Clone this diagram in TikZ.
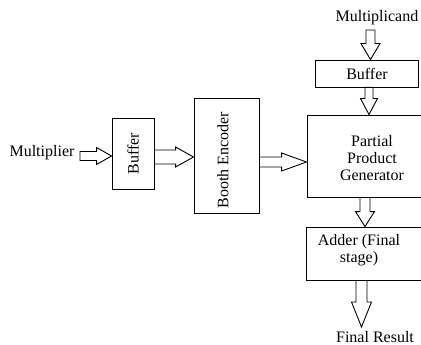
\documentclass[tikz,border=0pt]{standalone}
\usepackage{fontspec}
\setmainfont{Liberation Serif}
\usetikzlibrary{calc}
\tikzset{
  box/.style={draw, line width=0.9pt, rectangle, inner sep=0pt},
  txt/.style={font=\fontsize{16}{17}\selectfont, inner sep=0pt, align=center},
  blk/.style={draw, line width=0.9pt, fill=white, line join=miter}
}
% horizontal block arrow: from #1 to #2, shaft half width #3, head half width #4, head length #5
\newcommand\harr[5]{\draw[blk] ($(#1)+(0,#3)$) -- ($(#2)+(-#5,#3)$) -- ($(#2)+(-#5,#4)$) -- (#2) -- ($(#2)+(-#5,-#4)$) -- ($(#2)+(-#5,-#3)$) -- ($(#1)+(0,-#3)$) -- cycle;}
% vertical (downward) block arrow
\newcommand\varr[5]{\draw[blk] ($(#1)+(#3,0)$) -- ($(#2)+(#3,-#5)$) -- ($(#2)+(#4,-#5)$) -- (#2) -- ($(#2)+(-#4,-#5)$) -- ($(#2)+(-#3,-#5)$) -- ($(#1)+(-#3,0)$) -- cycle;}
\begin{document}
\begin{tikzpicture}[x=1pt,y=-1pt]
\useasboundingbox (0,0) rectangle (421,345);
% nodes
\node[txt] (mult) at (42,153) {Multiplier};
\node[box, minimum width=42pt, minimum height=71pt] (buf1) at (133,153.5) {};
\node[txt, rotate=90] (buf1t) at (buf1.center) {Buffer};
\node[box, minimum width=65pt, minimum height=115pt] (booth) at (226.5,155.5) {};
\node[txt, rotate=90] (bootht) at (223,160) {Booth Encoder};
\node[txt] (mcand) at (377,18) {Multiplicand};
\node[box, minimum width=103pt, minimum height=27pt] (buf2) at (366.5,73.5) {};
\node[txt] (buf2t) at (367,73.5) {Buffer};
\node[box, minimum width=130pt, minimum height=82pt] (ppg) at (372,156) {};
\node[txt] (ppgt) at (372,158) {Partial\\Product\\Generator};
\node[box, minimum width=130pt, minimum height=53pt] (adder) at (371,253.5) {};
\node[txt] (addert) at (359,250) {Adder (Final\\stage)};
\node[txt] (res) at (375,337) {Final Result};
% connector coordinates
\coordinate (s1) at (80,156);
\coordinate (e1) at (buf1.west |- s1);
\coordinate (s2) at (buf1.east |- 0,157);
\coordinate (e2) at (booth.west |- s2);
\coordinate (s3) at (booth.east |- 0,162);
\coordinate (e3) at (ppg.west |- s3);
\coordinate (s4) at (370.5,30);
\coordinate (e4) at (s4 |- buf2.north);
\coordinate (s5) at (buf2.south -| 369,0);
\coordinate (e5) at (s5 |- ppg.north);
\coordinate (s6) at (ppg.south -| 365,0);
\coordinate (e6) at (s6 |- adder.north);
\coordinate (s7) at (adder.south -| 361.5,0);
\coordinate (e7) at (361.5,327);
% block arrows
\harr{s1}{e1}{4.5}{8.5}{15}
\harr{s2}{e2}{7}{10}{18}
\harr{s3}{e3}{5}{9}{25}
\varr{s4}{e4}{4.5}{9.5}{16}
\varr{s5}{e5}{4}{8.5}{16}
\varr{s6}{e6}{5}{9.5}{15}
\varr{s7}{e7}{5.5}{10}{25}
\end{tikzpicture}
\end{document}
